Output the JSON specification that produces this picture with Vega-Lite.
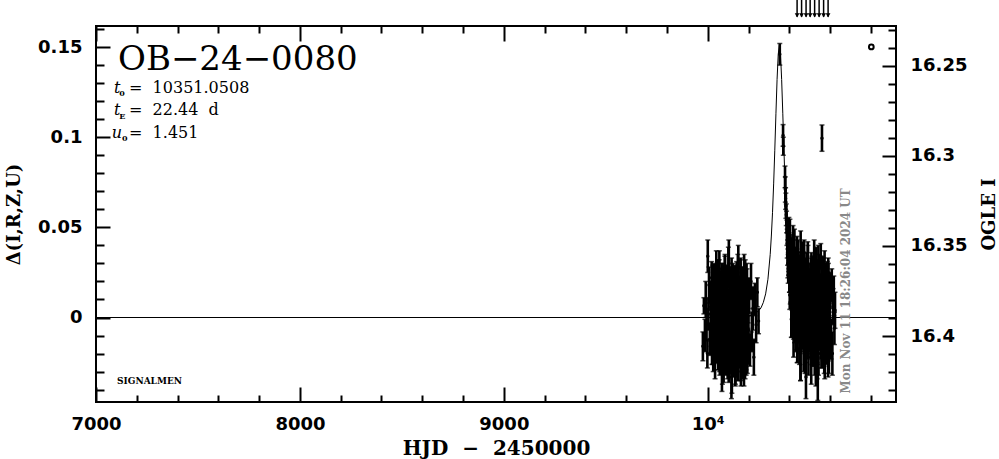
{
  "$schema": "https://vega.github.io/schema/vega-lite/v6.json",
  "width": 800,
  "height": 376,
  "autosize": {"type": "none"},
  "padding": {"left": 96, "top": 26, "right": 103, "bottom": 57},
  "background": "white",
  "config": {
    "view": {"stroke": "black", "strokeWidth": 2},
    "axis": {"zindex": 1, "domain": false, "grid": false, "ticks": true, "tickColor": "black", "tickWidth": 2, "labelColor": "black", "titleColor": "black", "labelOverlap": false, "labelBound": false, "labelFlush": false}
  },
  "datasets": {
    "obs": [
      {"t":9976,"d":-0.016,"e":0.008},{"t":9981,"d":0.0065,"e":0.0045},{"t":9986,"d":-0.010,"e":0.009},{"t":9990,"d":0.010,"e":0.010},{"t":9994,"d":-0.004,"e":0.009},{"t":9998,"d":-0.020,"e":0.008},{"t":10000,"d":0.034,"e":0.009},{"t":10003,"d":0.002,"e":0.009},{"t":10006,"d":0.018,"e":0.010},{"t":10010,"d":-0.012,"e":0.009},{"t":10013,"d":0.012,"e":0.008},{"t":10016,"d":-0.005,"e":0.011},{"t":10019,"d":0.022,"e":0.009},
      {"t":10020,"d":0.004,"e":0.008},{"t":10021.5,"d":-0.009,"e":0.010},{"t":10023,"d":0.013,"e":0.007},{"t":10024.5,"d":-0.017,"e":0.009},{"t":10026,"d":0.006,"e":0.012},{"t":10027.5,"d":-0.001,"e":0.008},{"t":10029,"d":-0.015,"e":0.011},{"t":10030.5,"d":0.010,"e":0.009},{"t":10032,"d":0.018,"e":0.007},{"t":10033.5,"d":-0.005,"e":0.010},{"t":10035,"d":-0.012,"e":0.013},{"t":10036.5,"d":0.021,"e":0.008},
      {"t":10038,"d":-0.003,"e":0.008},{"t":10039.5,"d":0.008,"e":0.010},{"t":10041,"d":-0.018,"e":0.007},{"t":10042.5,"d":0.015,"e":0.009},{"t":10044,"d":-0.007,"e":0.012},{"t":10045.5,"d":0.002,"e":0.008},{"t":10047,"d":0.019,"e":0.011},{"t":10048.5,"d":-0.014,"e":0.009},{"t":10050,"d":0.011,"e":0.007},{"t":10051.5,"d":-0.019,"e":0.010},{"t":10053,"d":0.005,"e":0.013},{"t":10054.5,"d":-0.010,"e":0.008},
      {"t":10056,"d":0.024,"e":0.008},{"t":10057.5,"d":0.000,"e":0.010},{"t":10059,"d":-0.025,"e":0.007},{"t":10060.5,"d":0.012,"e":0.009},{"t":10062,"d":0.007,"e":0.012},{"t":10063.5,"d":-0.016,"e":0.008},{"t":10065,"d":0.003,"e":0.011},{"t":10066.5,"d":0.016,"e":0.009},{"t":10068,"d":-0.008,"e":0.007},{"t":10069.5,"d":-0.031,"e":0.010},{"t":10071,"d":0.009,"e":0.013},{"t":10072.5,"d":0.022,"e":0.008},
      {"t":10074,"d":-0.013,"e":0.008},{"t":10075.5,"d":-0.002,"e":0.010},{"t":10077,"d":0.014,"e":0.007},{"t":10078.5,"d":-0.020,"e":0.009},{"t":10080,"d":0.017,"e":0.012},{"t":10081.5,"d":-0.006,"e":0.008},{"t":10083,"d":-0.011,"e":0.011},{"t":10084.5,"d":0.026,"e":0.009},{"t":10086,"d":-0.024,"e":0.007},{"t":10087.5,"d":0.001,"e":0.010},{"t":10089,"d":0.010,"e":0.013},{"t":10090.5,"d":-0.015,"e":0.008},
      {"t":10092,"d":0.020,"e":0.008},{"t":10093.5,"d":-0.009,"e":0.010},{"t":10095,"d":-0.003,"e":0.007},{"t":10096.5,"d":0.012,"e":0.009},{"t":10098,"d":-0.018,"e":0.012},{"t":10099.5,"d":0.006,"e":0.008},{"t":10101,"d":0.028,"e":0.011},{"t":10102.5,"d":-0.027,"e":0.009},{"t":10104,"d":0.004,"e":0.007},{"t":10105.5,"d":-0.012,"e":0.010},{"t":10107,"d":0.015,"e":0.013},{"t":10108.5,"d":-0.006,"e":0.008},
      {"t":10110,"d":0.009,"e":0.008},{"t":10111.5,"d":-0.021,"e":0.010},{"t":10113,"d":-0.001,"e":0.007},{"t":10114.5,"d":0.018,"e":0.009},{"t":10116,"d":-0.033,"e":0.012},{"t":10117.5,"d":0.011,"e":0.008},{"t":10119,"d":0.002,"e":0.011},{"t":10120.5,"d":-0.008,"e":0.009},{"t":10122,"d":0.023,"e":0.007},{"t":10123.5,"d":-0.016,"e":0.010},{"t":10125,"d":0.007,"e":0.013},{"t":10126.5,"d":-0.004,"e":0.008},
      {"t":10128,"d":0.013,"e":0.008},{"t":10129.5,"d":-0.023,"e":0.010},{"t":10131,"d":0.019,"e":0.007},{"t":10132.5,"d":-0.010,"e":0.009},{"t":10134,"d":0.005,"e":0.012},{"t":10135.5,"d":-0.029,"e":0.008},{"t":10137,"d":0.016,"e":0.011},{"t":10138.5,"d":0.000,"e":0.009},{"t":10140,"d":-0.014,"e":0.007},{"t":10141.5,"d":0.021,"e":0.010},{"t":10143,"d":-0.007,"e":0.013},{"t":10144.5,"d":0.008,"e":0.008},
      {"t":10146,"d":-0.019,"e":0.008},{"t":10147.5,"d":0.025,"e":0.010},{"t":10149,"d":-0.002,"e":0.007},{"t":10150.5,"d":-0.026,"e":0.009},{"t":10152,"d":0.010,"e":0.012},{"t":10153.5,"d":0.003,"e":0.008},{"t":10155,"d":-0.011,"e":0.011},{"t":10156.5,"d":0.014,"e":0.009},{"t":10158,"d":-0.005,"e":0.007},{"t":10159.5,"d":-0.017,"e":0.010},{"t":10161,"d":0.020,"e":0.013},{"t":10162.5,"d":-0.030,"e":0.008},
      {"t":10164,"d":0.006,"e":0.008},{"t":10165.5,"d":0.017,"e":0.010},{"t":10167,"d":-0.009,"e":0.007},{"t":10168.5,"d":0.001,"e":0.009},{"t":10170,"d":-0.022,"e":0.012},{"t":10171.5,"d":0.012,"e":0.008},{"t":10173,"d":-0.013,"e":0.011},{"t":10174.5,"d":0.009,"e":0.009},{"t":10176,"d":0.004,"e":0.007},{"t":10177.5,"d":-0.028,"e":0.010},{"t":10179,"d":0.015,"e":0.013},{"t":10180.5,"d":-0.003,"e":0.008},
      {"t":10182,"d":-0.015,"e":0.008},{"t":10183.5,"d":0.022,"e":0.010},{"t":10185,"d":-0.008,"e":0.007},{"t":10186.5,"d":0.007,"e":0.009},{"t":10188,"d":-0.020,"e":0.012},{"t":10189.5,"d":0.011,"e":0.008},{"t":10191,"d":-0.001,"e":0.011},{"t":10192.5,"d":0.018,"e":0.009},{"t":10194,"d":-0.024,"e":0.007},{"t":10195.5,"d":0.002,"e":0.010},{"t":10197,"d":-0.012,"e":0.013},{"t":10198.5,"d":0.013,"e":0.008},
      {"t":10020.75,"d":-0.016,"e":0.010},{"t":10022.25,"d":0.009,"e":0.007},{"t":10023.75,"d":-0.005,"e":0.012},{"t":10025.25,"d":0.021,"e":0.008},{"t":10026.75,"d":-0.021,"e":0.009},{"t":10028.25,"d":-0.002,"e":0.011},{"t":10029.75,"d":-0.014,"e":0.008},{"t":10031.25,"d":0.017,"e":0.013},{"t":10032.75,"d":-0.010,"e":0.007},{"t":10034.25,"d":0.005,"e":0.010},{"t":10035.75,"d":-0.025,"e":0.009},{"t":10037.25,"d":0.012,"e":0.008},
      {"t":10038.75,"d":0.000,"e":0.010},{"t":10040.25,"d":-0.018,"e":0.007},{"t":10041.75,"d":0.025,"e":0.012},{"t":10043.25,"d":-0.007,"e":0.008},{"t":10044.75,"d":-0.012,"e":0.009},{"t":10046.25,"d":0.010,"e":0.011},{"t":10047.75,"d":-0.015,"e":0.008},{"t":10049.25,"d":0.019,"e":0.013},{"t":10050.75,"d":-0.004,"e":0.007},{"t":10052.25,"d":0.006,"e":0.010},{"t":10053.75,"d":-0.020,"e":0.009},{"t":10055.25,"d":-0.009,"e":0.008},
      {"t":10056.75,"d":0.027,"e":0.010},{"t":10058.25,"d":-0.023,"e":0.007},{"t":10059.75,"d":0.014,"e":0.012},{"t":10061.25,"d":0.002,"e":0.008},{"t":10062.75,"d":-0.017,"e":0.009},{"t":10064.25,"d":0.008,"e":0.011},{"t":10065.75,"d":-0.006,"e":0.008},{"t":10067.25,"d":-0.013,"e":0.013},{"t":10068.75,"d":0.023,"e":0.007},{"t":10070.25,"d":-0.001,"e":0.010},{"t":10071.75,"d":-0.028,"e":0.009},{"t":10073.25,"d":0.016,"e":0.008},
      {"t":10074.75,"d":-0.011,"e":0.010},{"t":10076.25,"d":0.004,"e":0.007},{"t":10077.75,"d":-0.024,"e":0.012},{"t":10079.25,"d":0.011,"e":0.008},{"t":10080.75,"d":-0.003,"e":0.009},{"t":10082.25,"d":-0.019,"e":0.011},{"t":10083.75,"d":0.026,"e":0.008},{"t":10085.25,"d":-0.008,"e":0.013},{"t":10086.75,"d":0.007,"e":0.007},{"t":10088.25,"d":-0.022,"e":0.010},{"t":10089.75,"d":0.020,"e":0.009},{"t":10091.25,"d":-0.016,"e":0.008},
      {"t":10092.75,"d":0.001,"e":0.010},{"t":10094.25,"d":-0.010,"e":0.007},{"t":10095.75,"d":0.013,"e":0.012},{"t":10097.25,"d":-0.026,"e":0.008},{"t":10098.75,"d":0.005,"e":0.009},{"t":10100.25,"d":-0.005,"e":0.011},{"t":10101.75,"d":-0.014,"e":0.008},{"t":10103.25,"d":0.030,"e":0.013},{"t":10104.75,"d":-0.021,"e":0.007},{"t":10106.25,"d":-0.002,"e":0.010},{"t":10107.75,"d":0.018,"e":0.009},{"t":10109.25,"d":-0.012,"e":0.008},
      {"t":10110.75,"d":0.003,"e":0.010},{"t":10112.25,"d":-0.018,"e":0.007},{"t":10113.75,"d":0.009,"e":0.012},{"t":10115.25,"d":-0.007,"e":0.008},{"t":10116.75,"d":0.024,"e":0.009},{"t":10118.25,"d":-0.031,"e":0.011},{"t":10119.75,"d":-0.009,"e":0.008},{"t":10121.25,"d":0.015,"e":0.013},{"t":10122.75,"d":-0.015,"e":0.007},{"t":10124.25,"d":0.000,"e":0.010},{"t":10125.75,"d":0.006,"e":0.009},{"t":10127.25,"d":-0.023,"e":0.008},
      {"t":10128.75,"d":0.012,"e":0.010},{"t":10130.25,"d":-0.013,"e":0.007},{"t":10131.75,"d":-0.004,"e":0.012},{"t":10133.25,"d":0.021,"e":0.008},{"t":10134.75,"d":-0.029,"e":0.009},{"t":10136.25,"d":0.008,"e":0.011},{"t":10137.75,"d":0.003,"e":0.008},{"t":10139.25,"d":-0.020,"e":0.013},{"t":10140.75,"d":0.017,"e":0.007},{"t":10142.25,"d":-0.017,"e":0.010},{"t":10143.75,"d":-0.001,"e":0.009},{"t":10145.25,"d":0.010,"e":0.008},
      {"t":10146.75,"d":-0.025,"e":0.010},{"t":10148.25,"d":-0.012,"e":0.007},{"t":10149.75,"d":0.028,"e":0.012},{"t":10151.25,"d":0.005,"e":0.008},{"t":10152.75,"d":-0.019,"e":0.009},{"t":10154.25,"d":-0.006,"e":0.011},{"t":10155.75,"d":0.013,"e":0.008},{"t":10157.25,"d":-0.010,"e":0.013},{"t":10158.75,"d":-0.015,"e":0.007},{"t":10160.25,"d":0.022,"e":0.010},{"t":10161.75,"d":-0.003,"e":0.009},{"t":10163.25,"d":-0.027,"e":0.008},
      {"t":10164.75,"d":0.007,"e":0.010},{"t":10166.25,"d":-0.008,"e":0.007},{"t":10167.75,"d":0.016,"e":0.012},{"t":10169.25,"d":-0.014,"e":0.008},{"t":10170.75,"d":0.011,"e":0.009},{"t":10172.25,"d":-0.022,"e":0.011},{"t":10173.75,"d":-0.005,"e":0.008},{"t":10175.25,"d":0.004,"e":0.013},{"t":10176.75,"d":-0.018,"e":0.007},{"t":10178.25,"d":0.025,"e":0.010},{"t":10179.75,"d":-0.011,"e":0.009},{"t":10181.25,"d":0.000,"e":0.008},
      {"t":10182.75,"d":-0.024,"e":0.010},{"t":10184.25,"d":0.009,"e":0.007},{"t":10185.75,"d":0.002,"e":0.012},{"t":10187.25,"d":-0.021,"e":0.008},{"t":10188.75,"d":-0.013,"e":0.009},{"t":10190.25,"d":0.019,"e":0.011},{"t":10191.75,"d":-0.002,"e":0.008},{"t":10193.25,"d":-0.009,"e":0.013},{"t":10194.75,"d":0.014,"e":0.007},{"t":10196.25,"d":-0.016,"e":0.010},{"t":10197.75,"d":0.006,"e":0.009},{"t":10199.25,"d":-0.007,"e":0.008},
      {"t":10203,"d":0.012,"e":0.010},{"t":10207,"d":-0.018,"e":0.009},{"t":10212,"d":0.020,"e":0.010},{"t":10216,"d":-0.008,"e":0.011},{"t":10221,"d":0.005,"e":0.012},{"t":10226,"d":-0.022,"e":0.010},{"t":10231,"d":0.010,"e":0.009},{"t":10237,"d":-0.004,"e":0.010},{"t":10243,"d":0.014,"e":0.008},{"t":10249,"d":-0.002,"e":0.007},
      {"t":10353.1,"d":0.146,"e":0.006},{"t":10369.2,"d":0.101,"e":0.006},{"t":10370.4,"d":0.095,"e":0.005},{"t":10378.8,"d":0.078,"e":0.006},{"t":10380.2,"d":0.071,"e":0.007},{"t":10381.6,"d":0.066,"e":0.006},{"t":10383.0,"d":0.062,"e":0.007},{"t":10385.0,"d":0.057,"e":0.006},{"t":10386.4,"d":0.053,"e":0.006},{"t":10388.0,"d":0.047,"e":0.007},{"t":10389.6,"d":0.041,"e":0.008},{"t":10391.2,"d":0.036,"e":0.007},{"t":10392.8,"d":0.030,"e":0.008},{"t":10394.4,"d":0.027,"e":0.008},
      {"t":10396.0,"d":0.0315,"e":0.008},{"t":10397.7,"d":0.0445,"e":0.011},{"t":10399.4,"d":0.0325,"e":0.009},{"t":10401.1,"d":0.021,"e":0.007},{"t":10402.8,"d":0.0445,"e":0.010},{"t":10404.5,"d":0.0205,"e":0.013},{"t":10406.2,"d":0.024,"e":0.008},{"t":10407.9,"d":0.028,"e":0.008},{"t":10409.6,"d":-0.001,"e":0.010},{"t":10411.3,"d":0.037,"e":0.007},{"t":10413.0,"d":0.013,"e":0.009},{"t":10414.7,"d":0.023,"e":0.012},
      {"t":10416.4,"d":0.005,"e":0.008},{"t":10418.1,"d":0.040,"e":0.011},{"t":10419.8,"d":-0.003,"e":0.009},{"t":10421.5,"d":0.025,"e":0.007},{"t":10423.2,"d":0.009,"e":0.010},{"t":10424.9,"d":0.036,"e":0.013},{"t":10426.6,"d":-0.003,"e":0.008},{"t":10428.3,"d":0.013,"e":0.010},{"t":10430.0,"d":0.026,"e":0.007},{"t":10431.7,"d":-0.010,"e":0.009},{"t":10433.4,"d":0.018,"e":0.012},{"t":10435.1,"d":0.003,"e":0.008},
      {"t":10436.8,"d":0.030,"e":0.008},{"t":10438.5,"d":-0.014,"e":0.011},{"t":10440.2,"d":0.013,"e":0.009},{"t":10441.9,"d":0.036,"e":0.007},{"t":10443.6,"d":0.000,"e":0.010},{"t":10445.3,"d":0.007,"e":0.013},{"t":10447.0,"d":0.021,"e":0.008},{"t":10448.7,"d":-0.004,"e":0.008},{"t":10450.4,"d":0.015,"e":0.010},{"t":10452.1,"d":0.026,"e":0.007},{"t":10453.8,"d":-0.011,"e":0.009},{"t":10455.5,"d":0.036,"e":0.012},
      {"t":10457.2,"d":0.003,"e":0.008},{"t":10458.9,"d":-0.008,"e":0.011},{"t":10460.6,"d":0.018,"e":0.009},{"t":10462.3,"d":0.008,"e":0.007},{"t":10464.0,"d":0.031,"e":0.010},{"t":10465.7,"d":-0.003,"e":0.013},{"t":10467.4,"d":0.021,"e":0.008},{"t":10469.1,"d":-0.001,"e":0.008},{"t":10470.8,"d":0.004,"e":0.010},{"t":10472.5,"d":0.036,"e":0.007},{"t":10474.2,"d":-0.007,"e":0.009},{"t":10475.9,"d":0.011,"e":0.012},
      {"t":10477.6,"d":0.023,"e":0.008},{"t":10479.3,"d":-0.014,"e":0.011},{"t":10481.0,"d":0.016,"e":0.009},{"t":10482.7,"d":-0.001,"e":0.007},{"t":10484.4,"d":0.026,"e":0.010},{"t":10486.1,"d":-0.005,"e":0.013},{"t":10487.8,"d":0.007,"e":0.008},{"t":10489.5,"d":-0.012,"e":0.008},{"t":10491.2,"d":0.030,"e":0.010},{"t":10492.9,"d":0.004,"e":0.007},{"t":10494.6,"d":0.018,"e":0.009},{"t":10496.3,"d":-0.007,"e":0.012},
      {"t":10498.0,"d":0.002,"e":0.008},{"t":10499.7,"d":0.015,"e":0.011},{"t":10501.4,"d":-0.007,"e":0.009},{"t":10503.1,"d":0.023,"e":0.007},{"t":10504.8,"d":0.000,"e":0.010},{"t":10506.5,"d":0.007,"e":0.013},{"t":10508.2,"d":0.028,"e":0.008},{"t":10509.9,"d":-0.004,"e":0.008},{"t":10511.6,"d":-0.012,"e":0.010},{"t":10513.3,"d":0.011,"e":0.007},{"t":10515.0,"d":0.018,"e":0.009},{"t":10516.7,"d":-0.015,"e":0.012},
      {"t":10518.4,"d":0.009,"e":0.008},{"t":10520.1,"d":-0.002,"e":0.011},{"t":10521.8,"d":0.034,"e":0.009},{"t":10523.5,"d":-0.009,"e":0.007},{"t":10525.2,"d":0.013,"e":0.010},{"t":10526.9,"d":0.004,"e":0.013},{"t":10528.6,"d":-0.013,"e":0.008},{"t":10530.3,"d":0.020,"e":0.008},{"t":10532.0,"d":-0.005,"e":0.010},{"t":10533.7,"d":0.025,"e":0.007},{"t":10535.4,"d":0.001,"e":0.009},{"t":10537.1,"d":0.016,"e":0.012},
      {"t":10538.8,"d":-0.018,"e":0.008},{"t":10540.5,"d":0.006,"e":0.011},{"t":10542.2,"d":0.031,"e":0.009},{"t":10543.9,"d":-0.006,"e":0.007},{"t":10545.6,"d":-0.001,"e":0.010},{"t":10547.3,"d":0.022,"e":0.013},{"t":10549.0,"d":0.003,"e":0.008},{"t":10550.7,"d":-0.010,"e":0.008},{"t":10552.4,"d":0.014,"e":0.010},{"t":10554.1,"d":0.034,"e":0.007},{"t":10555.8,"d":-0.003,"e":0.009},{"t":10557.5,"d":-0.016,"e":0.012},
      {"t":10559.2,"d":0.019,"e":0.008},{"t":10560.9,"d":0.008,"e":0.011},{"t":10562.6,"d":-0.008,"e":0.009},{"t":10564.3,"d":0.026,"e":0.007},{"t":10566.0,"d":-0.014,"e":0.010},{"t":10567.7,"d":0.009,"e":0.013},{"t":10569.4,"d":0.014,"e":0.008},{"t":10571.1,"d":-0.023,"e":0.008},{"t":10572.8,"d":0.027,"e":0.010},{"t":10574.5,"d":0.002,"e":0.007},{"t":10576.2,"d":-0.007,"e":0.009},{"t":10577.9,"d":0.018,"e":0.012},
      {"t":10579.6,"d":-0.017,"e":0.008},{"t":10581.3,"d":0.012,"e":0.011},{"t":10583.0,"d":0.006,"e":0.009},{"t":10584.7,"d":-0.009,"e":0.007},{"t":10586.4,"d":0.021,"e":0.010},{"t":10588.1,"d":-0.003,"e":0.013},{"t":10589.8,"d":-0.025,"e":0.008},{"t":10591.5,"d":0.022,"e":0.008},{"t":10593.2,"d":-0.001,"e":0.010},{"t":10594.9,"d":0.015,"e":0.007},{"t":10596.6,"d":-0.012,"e":0.009},{"t":10598.3,"d":0.009,"e":0.012},
      {"t":10396.85,"d":0.0355,"e":0.010},{"t":10398.55,"d":0.040,"e":0.007},{"t":10400.25,"d":0.026,"e":0.012},{"t":10401.95,"d":0.0125,"e":0.008},{"t":10403.65,"d":0.0305,"e":0.009},{"t":10405.35,"d":0.035,"e":0.011},{"t":10407.05,"d":0.0165,"e":0.008},{"t":10408.75,"d":0.021,"e":0.013},{"t":10410.45,"d":0.034,"e":0.007},{"t":10412.15,"d":-0.001,"e":0.010},{"t":10413.85,"d":0.035,"e":0.009},{"t":10415.55,"d":0.011,"e":0.008},
      {"t":10417.25,"d":0.005,"e":0.010},{"t":10418.95,"d":0.036,"e":0.007},{"t":10420.65,"d":-0.010,"e":0.012},{"t":10422.35,"d":0.014,"e":0.008},{"t":10424.05,"d":0.022,"e":0.009},{"t":10425.75,"d":-0.003,"e":0.011},{"t":10427.45,"d":0.031,"e":0.008},{"t":10429.15,"d":0.002,"e":0.013},{"t":10430.85,"d":0.007,"e":0.007},{"t":10432.55,"d":0.021,"e":0.010},{"t":10434.25,"d":-0.009,"e":0.009},{"t":10435.95,"d":0.015,"e":0.008},
      {"t":10437.65,"d":0.035,"e":0.010},{"t":10439.35,"d":-0.018,"e":0.007},{"t":10441.05,"d":0.013,"e":0.012},{"t":10442.75,"d":-0.004,"e":0.008},{"t":10444.45,"d":0.023,"e":0.009},{"t":10446.15,"d":0.002,"e":0.011},{"t":10447.85,"d":0.017,"e":0.008},{"t":10449.55,"d":-0.013,"e":0.013},{"t":10451.25,"d":0.007,"e":0.007},{"t":10452.95,"d":0.025,"e":0.010},{"t":10454.65,"d":-0.026,"e":0.009},{"t":10456.35,"d":0.018,"e":0.008},
      {"t":10458.05,"d":0.009,"e":0.010},{"t":10459.75,"d":-0.001,"e":0.007},{"t":10461.45,"d":0.030,"e":0.012},{"t":10463.15,"d":-0.009,"e":0.008},{"t":10464.85,"d":0.014,"e":0.009},{"t":10466.55,"d":0.003,"e":0.011},{"t":10468.25,"d":0.019,"e":0.008},{"t":10469.95,"d":-0.017,"e":0.013},{"t":10471.65,"d":0.025,"e":0.007},{"t":10473.35,"d":-0.004,"e":0.010},{"t":10475.05,"d":0.011,"e":0.009},{"t":10476.75,"d":-0.023,"e":0.008},
      {"t":10478.45,"d":0.022,"e":0.010},{"t":10480.15,"d":0.006,"e":0.007},{"t":10481.85,"d":-0.008,"e":0.012},{"t":10483.55,"d":0.025,"e":0.008},{"t":10485.25,"d":-0.003,"e":0.009},{"t":10486.95,"d":0.012,"e":0.011},{"t":10488.65,"d":-0.015,"e":0.008},{"t":10490.35,"d":0.029,"e":0.013},{"t":10492.05,"d":0.002,"e":0.007},{"t":10493.75,"d":-0.022,"e":0.010},{"t":10495.45,"d":0.014,"e":0.009},{"t":10497.15,"d":0.007,"e":0.008},
      {"t":10498.85,"d":-0.007,"e":0.010},{"t":10500.55,"d":0.018,"e":0.007},{"t":10502.25,"d":-0.001,"e":0.012},{"t":10503.95,"d":-0.013,"e":0.008},{"t":10505.65,"d":0.024,"e":0.009},{"t":10507.35,"d":-0.026,"e":0.011},{"t":10509.05,"d":0.010,"e":0.008},{"t":10510.75,"d":0.021,"e":0.013},{"t":10512.45,"d":-0.005,"e":0.007},{"t":10514.15,"d":0.005,"e":0.010},{"t":10515.85,"d":-0.018,"e":0.009},{"t":10517.55,"d":0.016,"e":0.008},
      {"t":10519.25,"d":-0.009,"e":0.010},{"t":10520.95,"d":0.013,"e":0.007},{"t":10522.65,"d":0.008,"e":0.012},{"t":10524.35,"d":-0.024,"e":0.008},{"t":10526.05,"d":0.019,"e":0.009},{"t":10527.75,"d":0.001,"e":0.011},{"t":10529.45,"d":-0.011,"e":0.008},{"t":10531.15,"d":0.026,"e":0.013},{"t":10532.85,"d":-0.004,"e":0.007},{"t":10534.55,"d":0.011,"e":0.010},{"t":10536.25,"d":-0.016,"e":0.009},{"t":10537.95,"d":0.015,"e":0.008},
      {"t":10539.65,"d":0.003,"e":0.010},{"t":10541.35,"d":0.022,"e":0.007},{"t":10543.05,"d":-0.020,"e":0.012},{"t":10544.75,"d":0.006,"e":0.008},{"t":10546.45,"d":-0.008,"e":0.009},{"t":10548.15,"d":0.017,"e":0.011},{"t":10549.85,"d":0.008,"e":0.008},{"t":10551.55,"d":-0.005,"e":0.013},{"t":10553.25,"d":0.017,"e":0.007},{"t":10554.95,"d":-0.013,"e":0.010},{"t":10556.65,"d":0.010,"e":0.009},{"t":10558.35,"d":0.003,"e":0.008},
      {"t":10560.05,"d":-0.018,"e":0.010},{"t":10561.75,"d":0.014,"e":0.007},{"t":10563.45,"d":0.022,"e":0.012},{"t":10565.15,"d":-0.001,"e":0.008},{"t":10566.85,"d":-0.011,"e":0.009},{"t":10568.55,"d":0.022,"e":0.011},{"t":10570.25,"d":-0.002,"e":0.008},{"t":10571.95,"d":0.009,"e":0.013},{"t":10573.65,"d":-0.027,"e":0.007},{"t":10575.35,"d":0.016,"e":0.010},{"t":10577.05,"d":-0.006,"e":0.009},{"t":10578.75,"d":0.003,"e":0.008},
      {"t":10580.45,"d":0.020,"e":0.010},{"t":10582.15,"d":-0.013,"e":0.007},{"t":10583.85,"d":0.012,"e":0.012},{"t":10585.55,"d":-0.018,"e":0.008},{"t":10587.25,"d":0.006,"e":0.009},{"t":10588.95,"d":-0.009,"e":0.011},{"t":10590.65,"d":0.025,"e":0.008},{"t":10592.35,"d":0.001,"e":0.013},{"t":10594.05,"d":-0.024,"e":0.007},{"t":10595.75,"d":0.013,"e":0.010},{"t":10597.45,"d":0.008,"e":0.009},{"t":10599.15,"d":-0.015,"e":0.008},
      {"t":10481.5,"d":-0.033,"e":0.012},{"t":10539.5,"d":-0.034,"e":0.012},{"t":10530,"d":-0.028,"e":0.010},{"t":10455,"d":-0.026,"e":0.009},
      {"t":10601,"d":0.015,"e":0.010},{"t":10604.5,"d":-0.012,"e":0.011},{"t":10608,"d":0.018,"e":0.009},{"t":10611,"d":-0.020,"e":0.012},{"t":10614.5,"d":0.006,"e":0.010},{"t":10618,"d":0.012,"e":0.011},{"t":10621,"d":-0.006,"e":0.009},{"t":10624,"d":0.004,"e":0.010},
      {"t":10560,"d":0.0995,"e":0.0073}
    ],
    "model": [
      {"t":7000,"d":0},{"t":10100,"d":0},{"t":10126.65,"d":0.0002},{"t":10171.53,"d":0.0005},{"t":10216.41,"d":0.0013},{"t":10238.85,"d":0.0026},{"t":10261.29,"d":0.0054},{"t":10272.51,"d":0.0084},{"t":10283.73,"d":0.0131},{"t":10294.95,"d":0.0212},{"t":10306.17,"d":0.035},{"t":10311.78,"d":0.0452},{"t":10317.39,"d":0.0581},{"t":10323.0,"d":0.0741},{"t":10328.61,"d":0.0928},{"t":10334.22,"d":0.113},{"t":10339.83,"d":0.132},{"t":10345.44,"d":0.146},{"t":10351.05,"d":0.151},{"t":10356.66,"d":0.146},{"t":10362.27,"d":0.132},{"t":10367.88,"d":0.113},{"t":10373.49,"d":0.0928},{"t":10379.1,"d":0.0741},{"t":10384.71,"d":0.0581},{"t":10390.32,"d":0.0452},{"t":10395.93,"d":0.035},{"t":10407.15,"d":0.0212},{"t":10418.37,"d":0.0131},{"t":10429.59,"d":0.0084},{"t":10440.81,"d":0.0054},{"t":10463.25,"d":0.0026},{"t":10485.69,"d":0.0013},{"t":10530.57,"d":0.0005},{"t":10575.45,"d":0.0002},{"t":10620,"d":0},{"t":10923,"d":0}
    ],
    "italic": [{"t":7088,"d":0.1246,"txt":"t"},{"t":7088,"d":0.1122,"txt":"t"},{"t":7077,"d":0.0996,"txt":"u"}],
    "subs": [{"t":7114,"d":0.1226,"txt":"0"},{"t":7114,"d":0.1103,"txt":"E"},{"t":7128,"d":0.0977,"txt":"0"}],
    "params": [{"t":7162,"d":0.1246,"txt":"=\u00a0\u00a010351.0508"},{"t":7162,"d":0.1122,"txt":"=\u00a0\u00a022.44\u00a0\u00a0d"},{"t":7162,"d":0.0996,"txt":"=\u00a0\u00a01.451"}]
  },
  "layer": [
    {
      "encoding": {
        "x": {"field": "t", "type": "quantitative", "scale": {"domain": [7000, 10923], "nice": false, "zero": false},
          "axis": {"orient": "bottom", "values": [7000,7200,7400,7600,7800,8000,8200,8400,8600,8800,9000,9200,9400,9600,9800,10000,10200,10400,10600,10800],
            "tickSize": {"condition": {"test": "datum.value % 1000 == 0", "value": -15}, "value": -7},
            "labelExpr": "datum.value % 1000 == 0 ? (datum.value == 10000 ? '10⁴' : format(datum.value, 'd')) : ''",
            "labelFont": "DejaVu Sans", "labelFontWeight": "bold", "labelFontSize": 18, "labelPadding": 28,
            "title": "HJD \u00a0−\u00a0 2450000", "titleFont": "DejaVu Serif", "titleFontWeight": "bold", "titleFontSize": 20, "titlePadding": -3}},
        "y": {"field": "d", "type": "quantitative", "scale": {"domain": [-0.04687, 0.1617], "nice": false, "zero": false},
          "axis": {"orient": "left", "values": [-0.04,-0.03,-0.02,-0.01,0,0.01,0.02,0.03,0.04,0.05,0.06,0.07,0.08,0.09,0.1,0.11,0.12,0.13,0.14,0.15,0.16],
            "tickSize": {"condition": {"test": "abs(round(datum.value*100)) % 5 == 0", "value": -14}, "value": -8},
            "labelExpr": "abs(round(datum.value*100)) % 5 == 0 ? format(datum.value, '~g') : ''",
            "labelFont": "DejaVu Sans", "labelFontWeight": "bold", "labelFontSize": 18, "labelPadding": 28,
            "title": "Δ(I,R,Z,U)", "titleFont": "DejaVu Serif", "titleFontWeight": "bold", "titleFontSize": 18, "titlePadding": 14}}
      },
      "layer": [
        {"data": {"name": "model"}, "mark": {"type": "line", "color": "black", "strokeWidth": 1, "clip": false}},
        {"data": {"name": "obs"}, "mark": {"type": "errorbar", "color": "black", "thickness": 2.6, "ticks": {"size": 5, "thickness": 1.5, "color": "black"}}, "encoding": {"yError": {"field": "e"}}},
        {"data": {"name": "obs"}, "mark": {"type": "circle", "color": "black", "size": 12, "opacity": 1}},
        {"data": {"values": [{"t": 10632}]}, "mark": {"type": "rule", "color": "#8c8c8c", "strokeWidth": 1}, "encoding": {"y": {"datum": -0.04687}, "y2": {"datum": 0.1617}}},
        {"data": {"values": [{"t":10438,"d":0.1668},{"t":10460,"d":0.1668},{"t":10482,"d":0.1668},{"t":10502,"d":0.1668},{"t":10524,"d":0.1668},{"t":10546,"d":0.1668},{"t":10568,"d":0.1668},{"t":10590,"d":0.1668}]}, "mark": {"type": "rule", "color": "black", "strokeWidth": 1.5, "clip": false}, "encoding": {"y2": {"datum": 0.1762}}},
        {"data": {"values": [{"t":10438,"d":0.1676},{"t":10460,"d":0.1676},{"t":10482,"d":0.1676},{"t":10502,"d":0.1676},{"t":10524,"d":0.1676},{"t":10546,"d":0.1676},{"t":10568,"d":0.1676},{"t":10590,"d":0.1676}]}, "mark": {"type": "point", "shape": "triangle-down", "filled": true, "color": "black", "size": 22, "opacity": 1, "clip": false}},
        {"data": {"values": [{"t": 10678, "d": -0.0422}]}, "mark": {"type": "text", "text": "Mon Nov 11 18:26:04 2024 UT", "angle": 270, "align": "left", "baseline": "middle", "font": "DejaVu Serif", "fontWeight": "bold", "fontSize": 12, "color": "#888888"}},
        {"data": {"values": [{"t": 7108, "d": 0.1372}]}, "mark": {"type": "text", "text": "OB−24−0080", "align": "left", "baseline": "alphabetic", "font": "DejaVu Serif", "fontSize": 34, "color": "black"}},
        {"data": {"values": [{"t": 7103, "d": -0.0368}]}, "mark": {"type": "text", "text": "SIGNALMEN", "align": "left", "baseline": "alphabetic", "font": "DejaVu Serif", "fontWeight": "bold", "fontSize": 9, "color": "black"}},
        {"data": {"name": "italic"}, "mark": {"type": "text", "align": "left", "baseline": "alphabetic", "font": "DejaVu Serif", "fontStyle": "italic", "fontSize": 16, "color": "black"}, "encoding": {"text": {"field": "txt"}}},
        {"data": {"name": "subs"}, "mark": {"type": "text", "align": "left", "baseline": "alphabetic", "font": "DejaVu Serif", "fontWeight": "bold", "fontSize": 8, "color": "black"}, "encoding": {"text": {"field": "txt"}}},
        {"data": {"name": "params"}, "mark": {"type": "text", "align": "left", "baseline": "alphabetic", "font": "DejaVu Serif", "fontSize": 16, "color": "black"}, "encoding": {"text": {"field": "txt"}}}
      ]
    },
    {
      "data": {"values": [{"t": 10802, "m": 16.2396}]},
      "mark": {"type": "point", "shape": "circle", "filled": false, "color": "black", "strokeWidth": 2, "size": 22, "opacity": 1},
      "encoding": {
        "x": {"field": "t", "type": "quantitative", "scale": {"domain": [7000, 10923], "nice": false, "zero": false},
          "axis": {"orient": "top", "values": [7000,7200,7400,7600,7800,8000,8200,8400,8600,8800,9000,9200,9400,9600,9800,10000,10200,10400,10600,10800],
            "tickSize": {"condition": {"test": "datum.value % 1000 == 0", "value": -15}, "value": -7},
            "labels": false, "title": null}},
        "y": {"field": "m", "type": "quantitative", "scale": {"domain": [16.228, 16.4366], "reverse": true, "nice": false, "zero": false},
          "axis": {"orient": "right", "values": [16.23,16.24,16.25,16.26,16.27,16.28,16.29,16.3,16.31,16.32,16.33,16.34,16.35,16.36,16.37,16.38,16.39,16.4,16.41,16.42,16.43],
            "tickSize": {"condition": {"test": "abs(round(datum.value*100)) % 5 == 0", "value": -14}, "value": -8},
            "labelExpr": "abs(round(datum.value*100)) % 5 == 0 ? format(datum.value, '~g') : ''",
            "labelFont": "DejaVu Sans", "labelFontWeight": "bold", "labelFontSize": 18, "labelPadding": 28,
            "title": "OGLE I", "titleAngle": 270, "titleFont": "DejaVu Serif", "titleFontWeight": "bold", "titleFontSize": 18, "titlePadding": 32}}
      }
    }
  ],
  "resolve": {"scale": {"y": "independent"}, "axis": {"x": "independent", "y": "independent"}}
}
